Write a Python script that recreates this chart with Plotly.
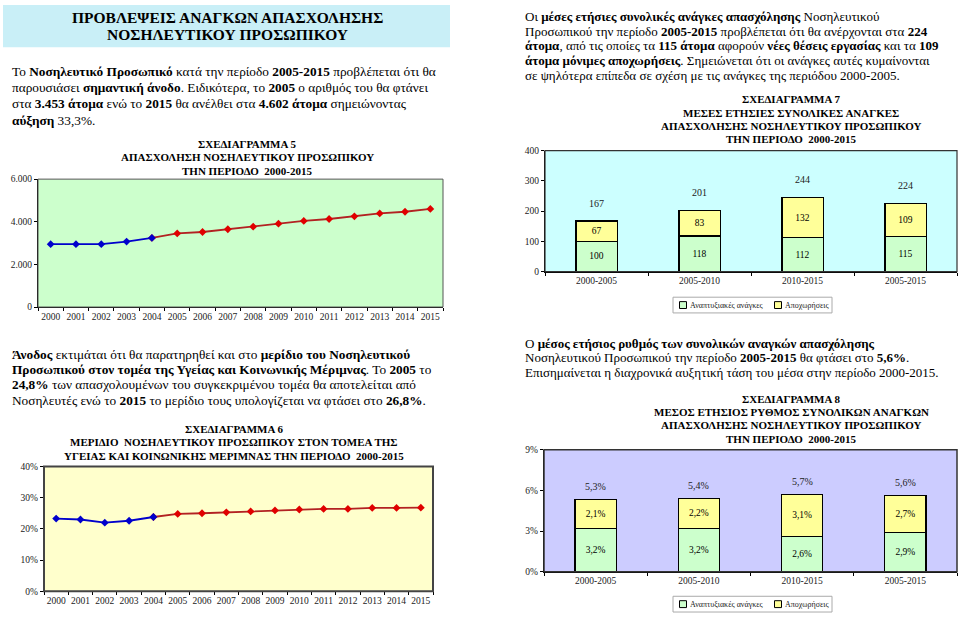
import plotly.graph_objects as go

# ---------------- data ----------------
years = [str(y) for y in range(2000, 2016)]
staff = [2949, 2949, 2949, 3070, 3240, 3453, 3520, 3650, 3770, 3910, 4042, 4130, 4255, 4390, 4470, 4602]
share = [23.3, 23.0, 22.0, 22.6, 23.8, 24.8, 25.0, 25.3, 25.6, 25.9, 26.2, 26.4, 26.4, 26.7, 26.7, 26.8]
label_idx = [0, 5, 10, 15]
hist_end = 4  # index of 2004 (last historical year)

periods = ["2000-2005", "2005-2010", "2010-2015", "2005-2015"]
dev_needs = [100, 118, 112, 115]
retirements = [67, 83, 132, 109]
dev_rate = [3.2, 3.2, 2.6, 2.9]
retire_rate = [2.1, 2.2, 3.1, 2.7]
legend_names = ["Αναπτυξιακές ανάγκες", "Αποχωρήσεις"]

W, H = 959, 618
SERIF = "Liberation Serif"


def fx(p):
    return p / W


def fy(p):
    return 1 - p / H


BLUE = "#0000CC"
RED_LINE = "#B22222"
RED_MK = "#E00000"
GREEN = "#CCFFCC"
YELLOW = "#FFFF99"

fig = go.Figure()

# ---------- Chart 5: staff ----------
fig.add_trace(go.Scatter(x=years[hist_end:], y=staff[hist_end:], mode="lines+markers",
                         line=dict(color=RED_LINE, width=1.8),
                         marker=dict(symbol="diamond", size=6, color=RED_MK),
                         xaxis="x", yaxis="y", showlegend=False))
fig.add_trace(go.Scatter(x=years[:hist_end + 1], y=staff[:hist_end + 1], mode="lines+markers",
                         line=dict(color=BLUE, width=1.8),
                         marker=dict(symbol="diamond", size=6, color=BLUE),
                         xaxis="x", yaxis="y", showlegend=False))

# ---------- Chart 6: share ----------
fig.add_trace(go.Scatter(x=years[hist_end:], y=share[hist_end:], mode="lines+markers",
                         line=dict(color=RED_LINE, width=1.8),
                         marker=dict(symbol="diamond", size=6, color=RED_MK),
                         xaxis="x2", yaxis="y2", showlegend=False))
fig.add_trace(go.Scatter(x=years[:hist_end + 1], y=share[:hist_end + 1], mode="lines+markers",
                         line=dict(color=BLUE, width=1.8),
                         marker=dict(symbol="diamond", size=6, color=BLUE),
                         xaxis="x2", yaxis="y2", showlegend=False))

# ---------- Chart 7: stacked bars ----------
bar_font = dict(family=SERIF, size=9.5, color="black")
fig.add_trace(go.Bar(x=periods, y=dev_needs, name=legend_names[0], marker=dict(color=GREEN, line=dict(color="black", width=1.2)),
                     text=dev_needs, textposition="inside", insidetextanchor="middle", textfont=bar_font,
                     constraintext="none", xaxis="x3", yaxis="y3", showlegend=False))
fig.add_trace(go.Bar(x=periods, y=retirements, name=legend_names[1], marker=dict(color=YELLOW, line=dict(color="black", width=1.2)),
                     text=retirements, textposition="inside", insidetextanchor="middle", textfont=bar_font,
                     constraintext="none", xaxis="x3", yaxis="y3", showlegend=False))

# ---------- Chart 8: stacked bars (rates) ----------
fig.add_trace(go.Bar(x=periods, y=dev_rate, name=legend_names[0], marker=dict(color=GREEN, line=dict(color="black", width=1.2)),
                     texttemplate="%{y:.1f}%", textposition="inside", insidetextanchor="middle", textfont=bar_font,
                     constraintext="none", xaxis="x4", yaxis="y4", showlegend=False))
fig.add_trace(go.Bar(x=periods, y=retire_rate, name=legend_names[1], marker=dict(color=YELLOW, line=dict(color="black", width=1.2)),
                     texttemplate="%{y:.1f}%", textposition="inside", insidetextanchor="middle", textfont=bar_font,
                     constraintext="none", xaxis="x4", yaxis="y4", showlegend=False))

# ---------------- axes ----------------
tickf = dict(family=SERIF, size=9.5, color="#222")


def xax(dom, anchor, cats):
    return dict(domain=[fx(dom[0]), fx(dom[1])], anchor=anchor, type="category",
                categoryorder="array", categoryarray=cats,
                range=[-0.5, len(cats) - 0.5], showline=True, linecolor="black", linewidth=1.2,
                ticks="outside", ticklen=3, tickson="boundaries", tickcolor="black", tickangle=0,
                showgrid=False, zeroline=False, tickfont=tickf, fixedrange=True)


def yax(dom, anchor, rng, dtick, **kw):
    d = dict(domain=[fy(dom[1]), fy(dom[0])], anchor=anchor, range=rng, dtick=dtick,
             showline=True, linecolor="black", linewidth=1.2, ticks="outside", ticklen=3,
             tickcolor="black", showgrid=False, zeroline=False, tickfont=tickf, fixedrange=True)
    d.update(kw)
    return d


P5 = (38, 443, 177, 307)
P6 = (44, 433, 469, 596)
P7 = (545, 957, 148, 271)
P8 = (544, 957, 452, 576)

fig.update_layout(
    width=W, height=H, margin=dict(l=0, r=0, t=0, b=0),
    paper_bgcolor="white", plot_bgcolor="rgba(0,0,0,0)",
    separators=",.", barmode="stack", bargap=0.6, showlegend=False,
    font=dict(family=SERIF, color="black"),
    xaxis=xax((P5[0], P5[1]), "y", years),
    yaxis=yax((P5[2], P5[3]), "x", [0, 6000], 2000, tickformat=",d"),
    xaxis2=xax((P6[0], P6[1]), "y2", years),
    yaxis2=yax((P6[2], P6[3]), "x2", [0, 40], 10, ticksuffix="%"),
    xaxis3=xax((P7[0], P7[1]), "y3", periods),
    yaxis3=yax((P7[2], P7[3]), "x3", [0, 400], 100),
    xaxis4=xax((P8[0], P8[1]), "y4", periods),
    yaxis4=yax((P8[2], P8[3]), "x4", [0, 9], 3, ticksuffix="%"),
)

# ---------------- shapes ----------------
shapes = []
shapes.append(dict(type="rect", xref="paper", yref="paper", x0=fx(3), x1=fx(450), y0=fy(43), y1=fy(0),
                   fillcolor="#C9EFF7", line=dict(width=0), layer="below"))
for (x0, x1, y0, y1), col, lc, lw in [(P5, "#CCFFCC", "#555", 1), (P6, "#FFFFCC", "#444", 2),
                                      (P7, "#CCFFFF", "#333", 1.2), (P8, "#CCCCFF", "#333", 1.5)]:
    shapes.append(dict(type="rect", xref="paper", yref="paper", x0=fx(x0), x1=fx(x1), y0=fy(y1), y1=fy(y0),
                       fillcolor=col, line=dict(width=0), layer="below"))
    shapes.append(dict(type="rect", xref="paper", yref="paper", x0=fx(x0), x1=fx(x1), y0=fy(y1), y1=fy(y0),
                       fillcolor="rgba(0,0,0,0)", line=dict(color=lc, width=lw), layer="above"))

ann = []


def txt(x, y, s, size=13.3, anchor="left", color="black"):
    ann.append(dict(x=fx(x), y=fy(y), xref="paper", yref="paper", text=s, showarrow=False,
                    xanchor=anchor, yanchor="middle", font=dict(family=SERIF, size=size, color=color)))


# manual legends (boxed, small square swatches)
for cy in (305, 609):
    shapes.append(dict(type="rect", xref="paper", yref="paper", x0=fx(673), x1=fx(832), y0=fy(cy + 8), y1=fy(cy - 8),
                       fillcolor="white", line=dict(color="#AAAAAA", width=1), layer="above"))
    for sx, col, name in [(683, GREEN, legend_names[0]), (778, YELLOW, legend_names[1])]:
        shapes.append(dict(type="rect", xref="paper", yref="paper", x0=fx(sx - 3.5), x1=fx(sx + 3.5),
                           y0=fy(cy + 3.5), y1=fy(cy - 3.5), fillcolor=col, line=dict(color="black", width=1),
                           layer="above"))
        txt(sx + 5, cy, name, 8, "left", "#222")
fig.update_layout(shapes=shapes)

# main title
txt(227, 13, "<b>ΠΡΟΒΛΕΨΕΙΣ ΑΝΑΓΚΩΝ ΑΠΑΣΧΟΛΗΣΗΣ</b>", 15.5, "center")
txt(227, 30, "<b>ΝΟΣΗΛΕΥΤΙΚΟΥ ΠΡΟΣΩΠΙΚΟΥ</b>", 15.5, "center")

para1 = [
    "Το <b>Νοσηλευτικό Προσωπικό</b> κατά την περίοδο <b>2005-2015</b> προβλέπεται ότι θα",
    "παρουσιάσει <b>σημαντική άνοδο</b>. Ειδικότερα, το <b>2005</b> ο αριθμός του θα φτάνει",
    "στα <b>3.453 άτομα</b> ενώ το <b>2015</b> θα ανέλθει στα <b>4.602 άτομα</b> σημειώνοντας",
    "<b>αύξηση</b> 33,3%.",
]
for i, s in enumerate(para1):
    txt(10, 68 + i * 16.3, s)

para2 = [
    "<b>Άνοδος</b> εκτιμάται ότι θα παρατηρηθεί και στο <b>μερίδιο του Νοσηλευτικού</b>",
    "<b>Προσωπικού στον τομέα της Υγείας και Κοινωνικής Μέριμνας</b>. Το <b>2005</b> το",
    "<b>24,8%</b> των απασχολουμένων του συγκεκριμένου τομέα θα αποτελείται από",
    "Νοσηλευτές ενώ το <b>2015</b> το μερίδιο τους υπολογίζεται να φτάσει στο <b>26,8%</b>.",
]
for i, s in enumerate(para2):
    txt(10, 355 + i * 15.6, s)

para3 = [
    "Οι <b>μέσες ετήσιες συνολικές ανάγκες απασχόλησης</b> Νοσηλευτικού",
    "Προσωπικού την περίοδο <b>2005-2015</b> προβλέπεται ότι θα ανέρχονται στα <b>224</b>",
    "<b>άτομα</b>, από τις οποίες τα <b>115 άτομα</b> αφορούν <b>νέες θέσεις εργασίας</b> και τα <b>109</b>",
    "<b>άτομα μόνιμες αποχωρήσεις</b>. Σημειώνεται ότι οι ανάγκες αυτές κυμαίνονται",
    "σε ψηλότερα επίπεδα σε σχέση με τις ανάγκες της περιόδου 2000-2005.",
]
for i, s in enumerate(para3):
    txt(523, 12 + i * 14.8, s, 13)

para4 = [
    "Ο <b>μέσος ετήσιος ρυθμός των συνολικών αναγκών απασχόλησης</b>",
    "Νοσηλευτικού Προσωπικού την περίοδο <b>2005-2015</b> θα φτάσει στο <b>5,6%</b>.",
    "Επισημαίνεται η διαχρονικά αυξητική τάση του μέσα στην περίοδο 2000-2015.",
]
for i, s in enumerate(para4):
    txt(523, 344 + i * 14.8, s, 13)

# chart titles
for i, s in enumerate(["ΣΧΕΔΙΑΓΡΑΜΜΑ 5", "ΑΠΑΣΧΟΛΗΣΗ ΝΟΣΗΛΕΥΤΙΚΟΥ ΠΡΟΣΩΠΙΚΟΥ", "ΤΗΝ ΠΕΡΙΟΔΟ  2000-2015"]):
    txt(247, 141 + i * 14, "<b>" + s + "</b>", 11, "center")
for i, s in enumerate(["ΣΧΕΔΙΑΓΡΑΜΜΑ 6", "ΜΕΡΙΔΙΟ  ΝΟΣΗΛΕΥΤΙΚΟΥ ΠΡΟΣΩΠΙΚΟΥ ΣΤΟΝ ΤΟΜΕΑ ΤΗΣ",
                       "ΥΓΕΙΑΣ ΚΑΙ ΚΟΙΝΩΝΙΚΗΣ ΜΕΡΙΜΝΑΣ ΤΗΝ ΠΕΡΙΟΔΟ  2000-2015"]):
    txt(234, 431 + i * 13.5, "<b>" + s + "</b>", 11, "center")
for i, s in enumerate(["ΣΧΕΔΙΑΓΡΑΜΜΑ 7", "ΜΕΣΕΣ ΕΤΗΣΙΕΣ ΣΥΝΟΛΙΚΕΣ ΑΝΑΓΚΕΣ",
                       "ΑΠΑΣΧΟΛΗΣΗΣ ΝΟΣΗΛΕΥΤΙΚΟΥ ΠΡΟΣΩΠΙΚΟΥ", "ΤΗΝ ΠΕΡΙΟΔΟ  2000-2015"]):
    txt(791, 96 + i * 13.3, "<b>" + s + "</b>", 11, "center")
for i, s in enumerate(["ΣΧΕΔΙΑΓΡΑΜΜΑ 8", "ΜΕΣΟΣ ΕΤΗΣΙΟΣ ΡΥΘΜΟΣ ΣΥΝΟΛΙΚΩΝ ΑΝΑΓΚΩΝ",
                       "ΑΠΑΣΧΟΛΗΣΗΣ ΝΟΣΗΛΕΥΤΙΚΟΥ ΠΡΟΣΩΠΙΚΟΥ", "ΤΗΝ ΠΕΡΙΟΔΟ  2000-2015"]):
    txt(791, 400 + i * 13.7, "<b>" + s + "</b>", 11, "center")

lab_font = dict(family=SERIF, size=10, color="#222")
for i in label_idx:
    ann.append(dict(x=years[i], y=staff[i], xref="x", yref="y", text=f"{staff[i]:,}".replace(",", "."),
                    showarrow=False, yshift=13, font=lab_font))
    ann.append(dict(x=years[i], y=share[i], xref="x2", yref="y2", text=f"{share[i]:.1f}%".replace(".", ","),
                    showarrow=False, yshift=14, font=lab_font))

for i, p in enumerate(periods):
    tot = dev_needs[i] + retirements[i]
    ann.append(dict(x=p, y=tot, xref="x3", yref="y3", text=str(tot), showarrow=False, yshift=18, font=lab_font))
    rt = dev_rate[i] + retire_rate[i]
    ann.append(dict(x=p, y=rt, xref="x4", yref="y4", text=f"{rt:.1f}%".replace(".", ","), showarrow=False,
                    yshift=13, font=lab_font))

fig.update_layout(annotations=ann)

# remove the page's default body margin / scrollbars so the figure fills the window exactly
page_js = ("document.documentElement.style.margin='0';document.documentElement.style.overflow='hidden';"
           "document.body.style.margin='0';document.body.style.padding='0';document.body.style.overflow='hidden';")
fig.write_html("out.html", post_script=page_js, config={"displayModeBar": False})
